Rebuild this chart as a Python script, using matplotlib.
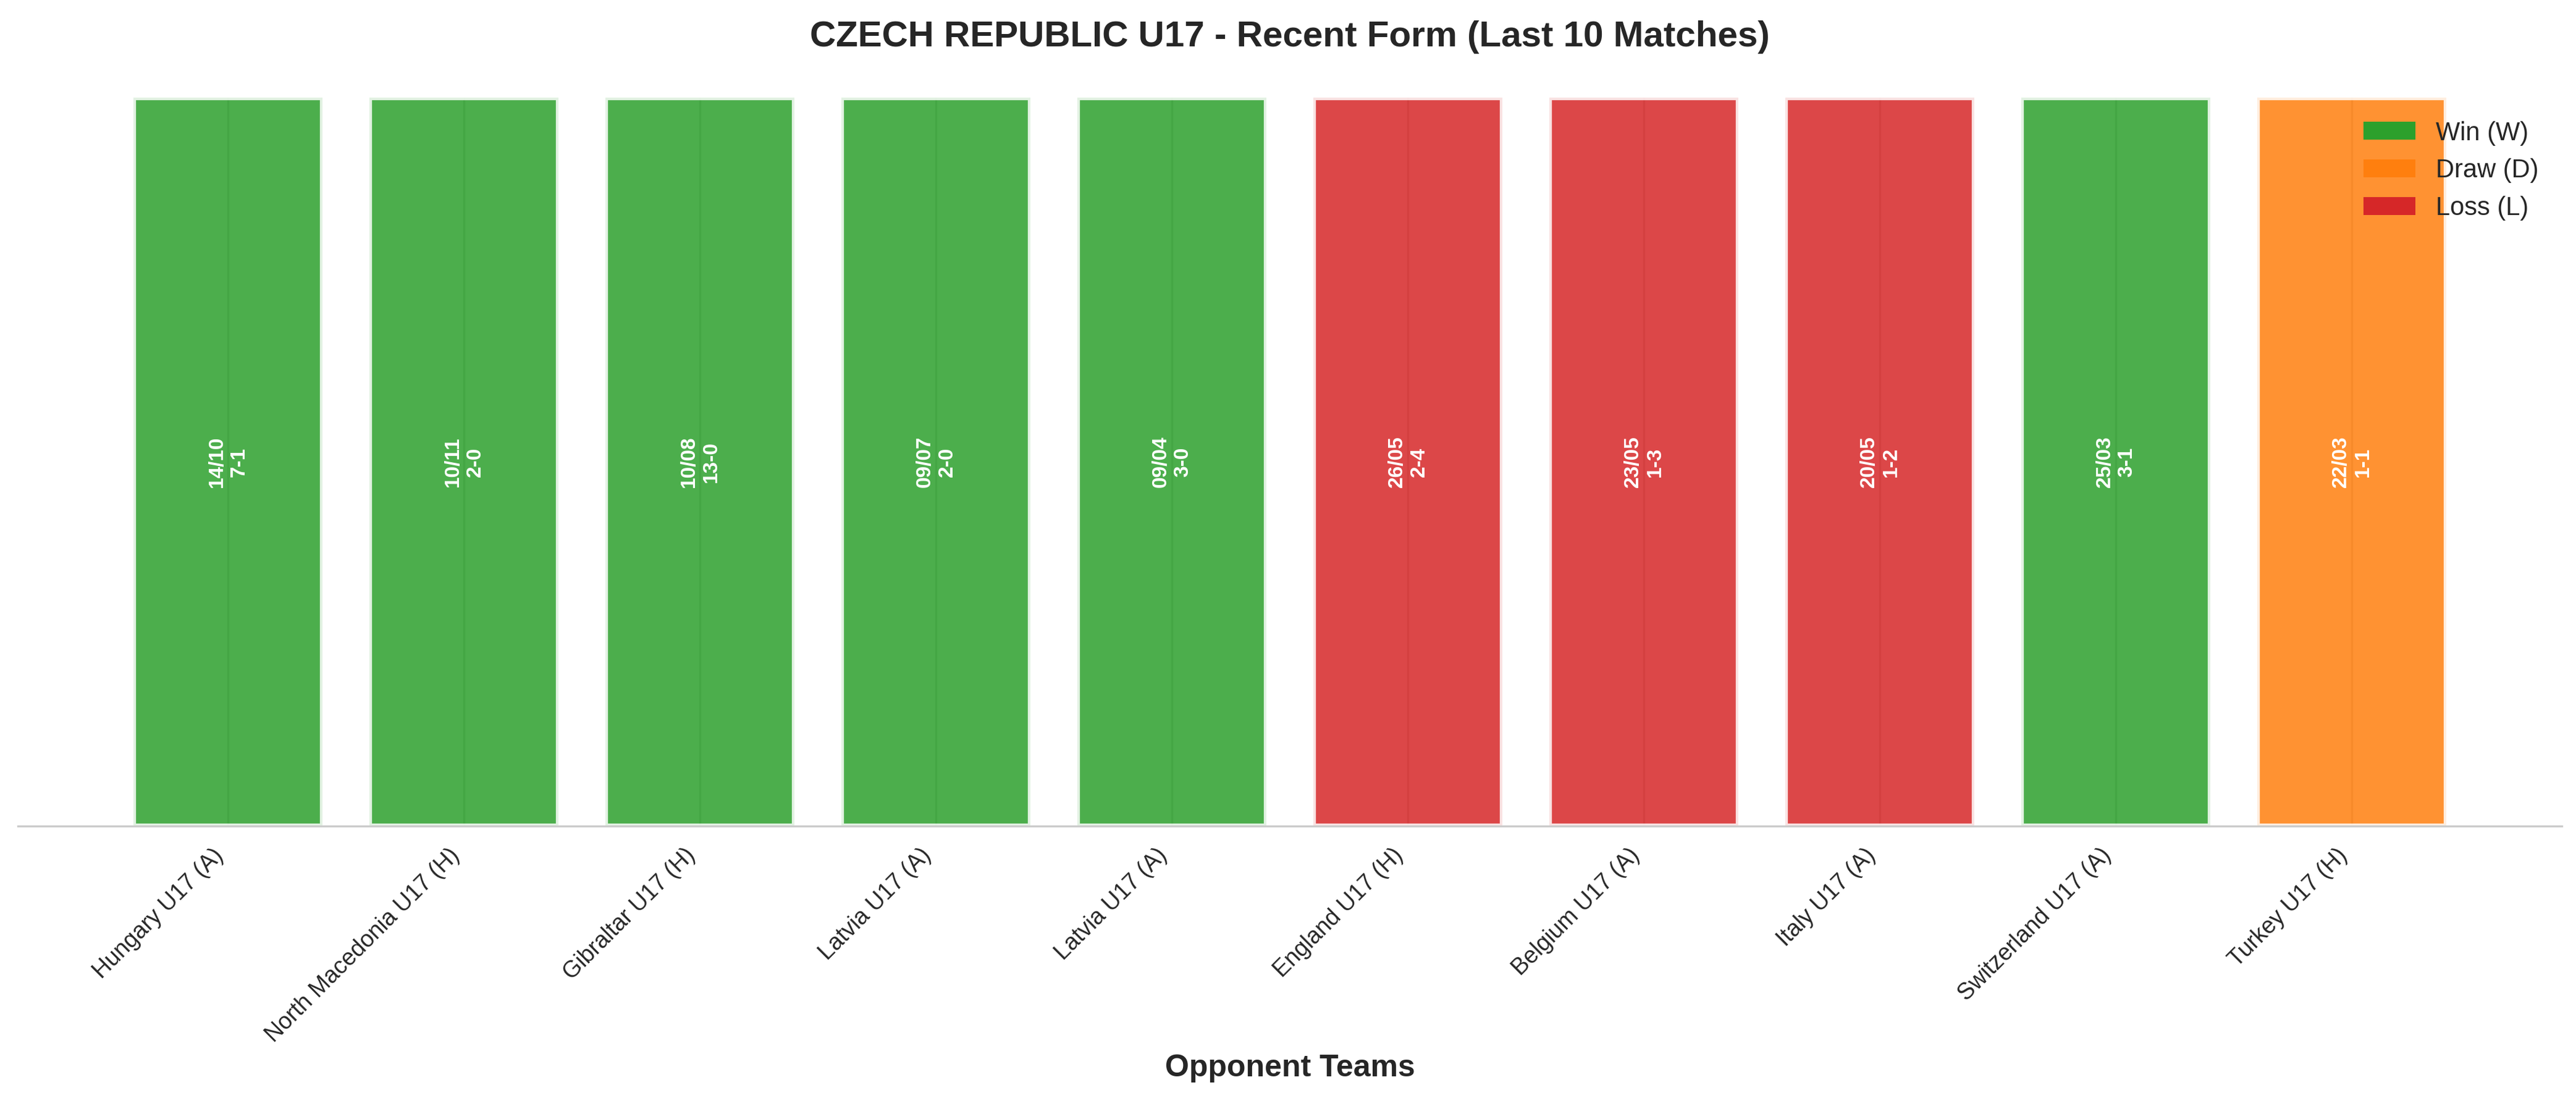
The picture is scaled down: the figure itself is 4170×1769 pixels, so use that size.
import matplotlib
matplotlib.use("Agg")
import matplotlib.pyplot as plt
import seaborn as sns
from matplotlib.patches import Patch

opponents = ["Hungary U17 (A)", "North Macedonia U17 (H)", "Gibraltar U17 (H)",
             "Latvia U17 (A)", "Latvia U17 (A)", "England U17 (H)",
             "Belgium U17 (A)", "Italy U17 (A)", "Switzerland U17 (A)",
             "Turkey U17 (H)"]
dates = ["14/10", "10/11", "10/08", "09/07", "09/04", "26/05", "23/05",
         "20/05", "25/03", "22/03"]
scores = ["7-1", "2-0", "13-0", "2-0", "3-0", "2-4", "1-3", "1-2", "3-1", "1-1"]
results = ["W", "W", "W", "W", "W", "L", "L", "L", "W", "D"]
bar_height = [1] * len(opponents)

result_colors = {"W": "#2ca02c", "D": "#ff7f0e", "L": "#d62728"}
legend_labels = [("W", "Win (W)"), ("D", "Draw (D)"), ("L", "Loss (L)")]

sns.set_style("whitegrid")
plt.rcParams["font.family"] = ["Liberation Sans", "DejaVu Sans"]

fig = plt.figure(figsize=(13.9, 5.897), dpi=300)
ax = fig.add_axes([29/4170, 1-1337/1769, (4147-29)/4170, (1337-158)/1769])

x = list(range(len(opponents)))
colors = [result_colors[r] for r in results]
ax.bar(x, bar_height, color=colors, alpha=0.85, edgecolor="white", linewidth=2, width=0.8)

for i, (d, s) in enumerate(zip(dates, scores)):
    ax.text(i, 0.5, f"{d}\n{s}", rotation=90, ha="center", va="center",
            color="white", fontweight="bold", fontsize=8)

ax.set_ylim(0, 1)
ax.set_xticks(x)
ax.set_xticklabels(opponents, rotation=45, ha="right", fontsize=9)
ax.set_yticks([])
ax.set_xlabel("Opponent Teams", fontsize=12, fontweight="bold", labelpad=3)
ax.set_title("CZECH REPUBLIC U17 - Recent Form (Last 10 Matches)",
             fontsize=14, fontweight="bold", pad=20)

for side in ["left", "top", "right"]:
    ax.spines[side].set_visible(False)

handles = [Patch(facecolor=result_colors[k], edgecolor="none", label=lab)
           for k, lab in legend_labels]
ax.legend(handles=handles, loc="upper right", frameon=False, fontsize=10)

fig.savefig("out.png", dpi=300)
